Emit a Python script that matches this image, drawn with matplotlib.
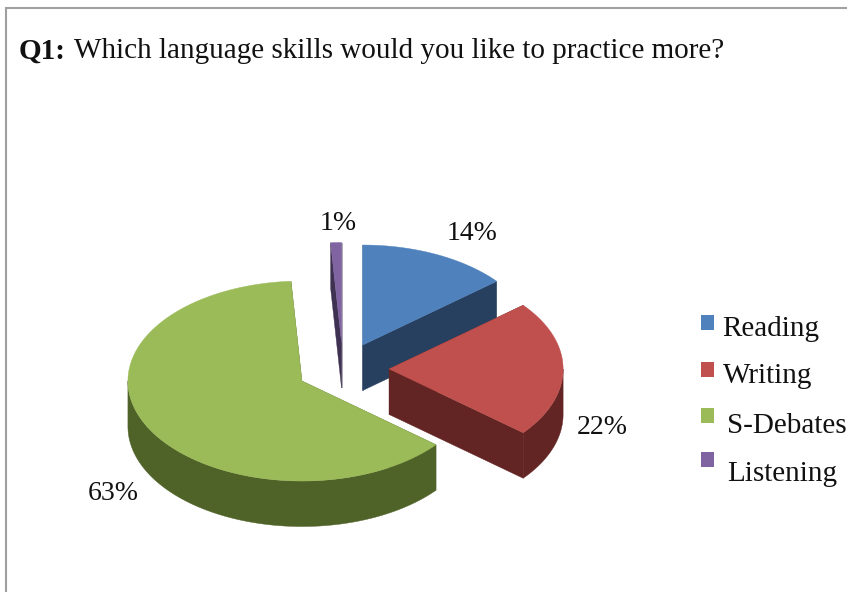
import numpy as np
import matplotlib
matplotlib.use("Agg")
import matplotlib.pyplot as plt
from matplotlib.patches import Polygon, Rectangle

plt.rcParams['font.family'] = ['Liberation Serif']

# Survey shares, clockwise from twelve o'clock
skills = ['Reading', 'Writing', 'S-Debates', 'Listening']
shares = [14, 22, 63, 1]
top_colors = ['#4F81BD', '#C0504D', '#9BBB59', '#8064A2']
side_colors = ['#28405F', '#632523', '#4F6228', '#3F3151']

# Pie geometry in pixels, the axes is set up as a pixel canvas
cx, cy = 343, 369
rx, ry = 174, 100
depth = 45.5
explode = 0.265

fig = plt.figure(figsize=(8.47, 5.92), dpi=100)
ax = fig.add_axes([0, 0, 1, 1])
ax.set_xlim(0, 847)
ax.set_ylim(592, 0)
ax.axis('off')


def rim(theta, ox, oy, drop=0):
    # theta in radians, measured clockwise from the top of the ellipse
    return np.column_stack([ox + rx*np.sin(theta), oy - ry*np.cos(theta) + drop])


# Outer frame, only the left and top edges are in view
ax.plot([5.5, 5.5, 850], [595, 7.5, 7.5], color='#A0A0A0', lw=1.5, solid_joinstyle='miter')

edges = np.radians(np.cumsum([0] + shares) * 3.6)

# Back slices first so the front ones paint over them
for i in [3, 0, 2, 1]:
    a0, a1 = edges[i], edges[i+1]
    mid = (a0 + a1) / 2
    ox = cx + explode*rx*np.sin(mid)
    oy = cy - explode*ry*np.cos(mid)
    arc = rim(np.linspace(a0, a1, 120), ox, oy)
    side = side_colors[i]

    # Cut faces
    for a in (a0, a1):
        p = rim(np.array([a]), ox, oy)[0]
        face = [(ox, oy), p, (p[0], p[1]+depth), (ox, oy+depth)]
        ax.add_patch(Polygon(face, closed=True, fc=side, ec=side, lw=0.3))

    # Outer wall, only the part that faces the viewer
    lo, hi = max(a0, np.pi/2), min(a1, 3*np.pi/2)
    if hi > lo:
        t = np.linspace(lo, hi, 120)
        wall = np.vstack([rim(t, ox, oy), rim(t[::-1], ox, oy, depth)])
        ax.add_patch(Polygon(wall, closed=True, fc=side, ec=side, lw=0.3))

    # Top surface
    top = np.vstack([[ox, oy], arc])
    ax.add_patch(Polygon(top, closed=True, fc=top_colors[i], ec=top_colors[i], lw=0.3))

# Percent labels
label_pos = [(472, 233), (602, 428), (113, 493), (338, 223)]
for s, (x, y) in zip(shares, label_pos):
    ax.text(x, y, f'{s}%', fontsize=20, ha='center', va='center', color='#111111')

# Hand placed legend, the entries do not line up exactly
swatch_y = [322, 369, 415, 459]
text_xy = [(722, 329), (723, 376), (727, 426), (727, 474)]
for name, color, sy, (tx, ty) in zip(skills, top_colors, swatch_y, text_xy):
    ax.add_patch(Rectangle((701, sy-7), 13, 14.5, fc=color, ec='none'))
    ax.text(tx, ty, name, fontsize=21, ha='left', va='center', color='#111111')

# Question line, bold prefix followed by regular text
ax.text(19, 51, 'Q1:', fontsize=21, fontweight='bold', ha='left', va='center', color='#111111')
ax.text(74, 51, 'Which language skills would you like to practice more?', fontsize=21,
        ha='left', va='center', color='#111111')

fig.savefig('out.png', dpi=100, facecolor='white')
